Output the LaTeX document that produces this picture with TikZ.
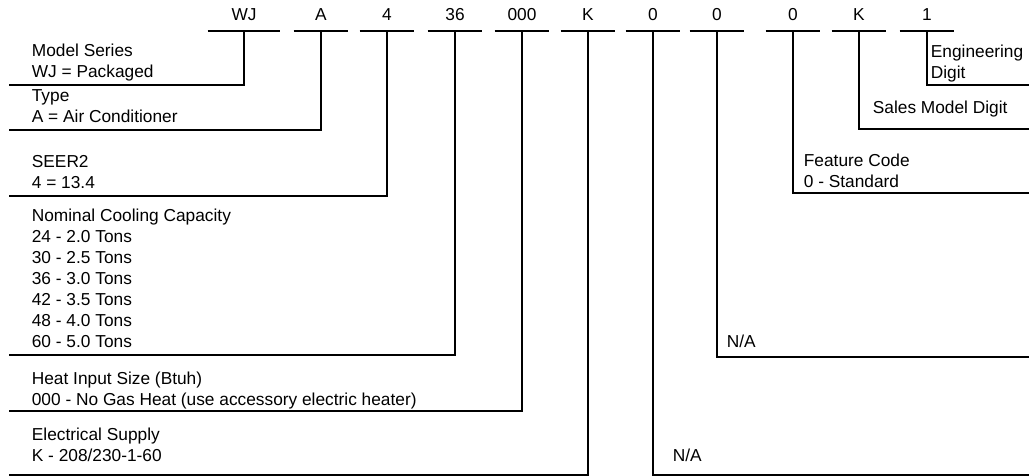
\documentclass[tikz,border=0pt]{standalone}
\usepackage{fontspec}
\setsansfont{Liberation Sans}
\usetikzlibrary{positioning, calc}

\begin{document}
\begin{tikzpicture}[
    x=0.02cm, y=-0.02cm,
    font=\sffamily\fontsize{9.85}{11.95}\selectfont,
    line width=1pt,
    % --- styles ---
    % code letter on top, its underline is drawn below
    code/.style={anchor=south, minimum width=1.06cm, minimum height=0.64cm, inner sep=0pt, text height=7pt, text depth=0pt},
    % description on the left side, the leader line runs along its bottom
    leftlbl/.style={anchor=south west, align=left, inner xsep=0.44cm, inner ysep=0.14cm, text depth=0pt},
    % description on the right side
    rightlbl/.style={anchor=south west, align=left, inner xsep=0.2cm, inner ysep=0.1cm, text depth=0pt}
]
\useasboundingbox (0,0) rectangle (1029,476);
\coordinate (REdge) at (1029,0);

% ==================== 1. model number ====================
\node[code, minimum width=1.42cm] (cSeries) at (244,31) {WJ};
\node[code] (cType)  at (321,31) {A};
\node[code] (cSeer)  at (387,31) {4};
\node[code] (cCap)   at (455,31) {36};
\node[code] (cHeat)  at (522,31) {000};
\node[code] (cElec)  at (588,31) {K};
\node[code] (cNaA)   at (653,31) {0};
\node[code] (cNaB)   at (717,31) {0};
\node[code] (cFeat)  at (793,31) {0};
\node[code] (cSales) at (859,31) {K};
\node[code] (cEng)   at (927,31) {1};

\foreach \c in {cSeries, cType, cSeer, cCap, cHeat, cElec, cNaA, cNaB, cFeat, cSales, cEng}
    \draw (\c.south west) -- (\c.south east);

% ==================== 2. left descriptions ====================
\node[leftlbl] (Series) at (9,85) {Model Series\\WJ = Packaged};
\node[leftlbl] (Type) at (9,130) {Type\\A = Air Conditioner};
\node[leftlbl] (Seer) at (9,196) {SEER2\\4 = 13.4};
\node[leftlbl] (Cap) at (9,355) {Nominal Cooling Capacity\\24 - 2.0 Tons\\30 - 2.5 Tons\\36 - 3.0 Tons\\42 - 3.5 Tons\\48 - 4.0 Tons\\60 - 5.0 Tons};
\node[leftlbl, inner ysep=0.1cm] (Heat) at (9,411) {Heat Input Size (Btuh)\\000 - No Gas Heat (use accessory electric heater)};
\node[leftlbl, inner ysep=0.26cm] (Elec) at (9,475) {Electrical Supply\\K - 208/230-1-60};

% ==================== 3. right descriptions ====================
\node[rightlbl, inner xsep=0.06cm, inner ysep=0.12cm] (Eng) at (927,85) {Engineering\\Digit};
\node[rightlbl, inner xsep=0.26cm, inner ysep=0.3cm] (Sales) at (859,129) {Sales Model Digit};
\node[rightlbl] (Feat) at (793,193) {Feature Code\\0 - Standard};
\node[rightlbl, inner xsep=0.18cm, inner ysep=0.18cm] (NaUp) at (717,357) {N/A};
\node[rightlbl, inner xsep=0.38cm, inner ysep=0.26cm] (NaLow) at (653,475) {N/A};

% ==================== 4. leader lines ====================
\draw (cSeries.south) |- (Series.south west);
\draw (cType.south) |- (Type.south west);
\draw (cSeer.south) |- (Seer.south west);
\draw (cCap.south) |- (Cap.south west);
\draw (cHeat.south) |- (Heat.south west);
\draw (cElec.south) |- (Elec.south west);

\draw (cNaA.south) |- (REdge |- NaLow.south);
\draw (cNaB.south) |- (REdge |- NaUp.south);
\draw (cFeat.south) |- (REdge |- Feat.south);
\draw (cSales.south) |- (REdge |- Sales.south);
\draw (cEng.south) |- (REdge |- Eng.south);

\end{tikzpicture}
\end{document}
